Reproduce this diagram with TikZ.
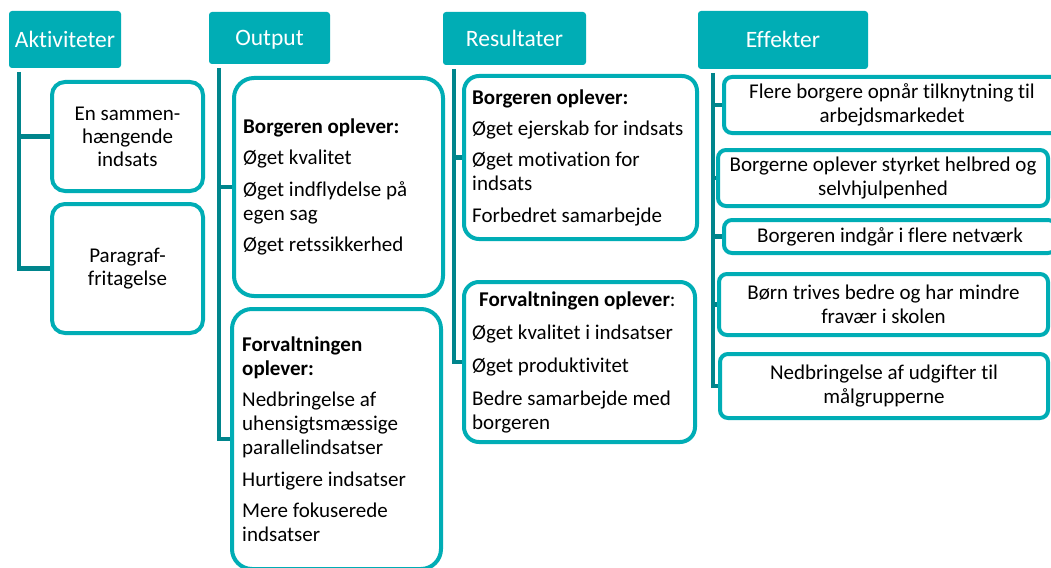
\documentclass[tikz,border=0pt]{standalone}
\usepackage{fontspec}
\setmainfont{Carlito}[Ligatures=NoCommon]
\definecolor{tealfill}{RGB}{0,173,181}
\definecolor{tealline}{RGB}{0,133,140}

\begin{document}
\begin{tikzpicture}[x=1pt,y=-1pt,
  header/.style={fill=tealfill, rounded corners=3pt, inner sep=0pt, outer sep=0pt,
    text=white, font=\fontsize{23.5}{28}\selectfont, text height=15.1pt, text depth=0pt,
    anchor=north west},
  card/.style={draw=tealfill, line width=4pt, fill=white, inner sep=0pt, outer sep=2pt,
    align=center, font=\fontsize{21}{24}\selectfont, anchor=north west},
  body/.style={inner sep=0pt, align=left, font=\fontsize{21}{24}\selectfont, anchor=west},
  link/.style={draw=tealline, line width=4.5pt}
]
\clip (0,0) rectangle (1051,567);
\fill[white] (0,0) rectangle (1051,567);

% column headers
\node[header, minimum width=112, minimum height=57] (hakt) at (9,11) {Aktiviteter};
\node[header, minimum width=121, minimum height=52] (hout) at (209,12) {Output};
\node[header, minimum width=143, minimum height=53] (hres) at (443,12) {Resultater};
\node[header, minimum width=170, minimum height=58] (heff) at (698,11) {Effekter};

% Aktiviteter
\node[card, rounded corners=13pt, minimum width=151, minimum height=109] (akt1) at (50,80)
  {En sammen-\\[-1pt]hængende\\[-1pt]indsats};
\node[card, rounded corners=13pt, minimum width=151, minimum height=129] (akt2) at (50,202)
  {Paragraf-\\[-1pt]fritagelse};

% Output
\node[card, rounded corners=20pt, minimum width=209, minimum height=218] (out1) at (232,76) {};
\node[body] (out1t) at ([xshift=11pt]out1.west)
  {\textbf{Borgeren oplever:}\\[7.5pt]
   Øget kvalitet\\[7.5pt]
   Øget indflydelse på\\
   egen sag\\[7.5pt]
   Øget retssikkerhed};
\node[card, rounded corners=20pt, minimum width=209, minimum height=260] (out2) at (230,307) {};
\node[body] (out2t) at ([xshift=12pt]out2.west)
  {\textbf{Forvaltningen}\\
   \textbf{oplever:}\\[7.5pt]
   Nedbringelse af\\
   uhensigtsmæssige\\
   parallelindsatser\\[7.5pt]
   Hurtigere indsatser\\[7.5pt]
   Mere fokuserede\\
   indsatser};

% Resultater
\node[card, rounded corners=15pt, minimum width=233, minimum height=163] (res1) at (462,74) {};
\node[body] (res1t) at ([xshift=10pt]res1.west)
  {\textbf{Borgeren oplever:}\\[7pt]
   Øget ejerskab for indsats\\[7.5pt]
   Øget motivation for\\
   indsats\\[7.5pt]
   Forbedret samarbejde};
\node[card, rounded corners=15pt, minimum width=231, minimum height=160] (res2) at (462,280) {};
\node[body] (res2t) at ([xshift=10pt]res2.west)
  {\hspace*{7pt}\textbf{Forvaltningen oplever}:\\[9pt]
   Øget kvalitet i indsatser\\[9pt]
   Øget produktivitet\\[9pt]
   Bedre samarbejde med\\
   borgeren};

% Effekter
\node[card, rounded corners=8pt, minimum width=336, minimum height=56] (eff1) at (722,75)
  {Flere borgere opnår tilknytning til\\arbejdsmarkedet};
\node[card, rounded corners=8pt, minimum width=330, minimum height=56] (eff2) at (716,148)
  {Borgerne oplever styrket helbred og\\selvhjulpenhed};
\node[card, rounded corners=8pt, minimum width=332, minimum height=33] (eff3) at (722,218)
  {Borgeren indgår i flere netværk};
\node[card, rounded corners=8pt, minimum width=329, minimum height=61] (eff4) at (717,272)
  {Børn trives bedre og har mindre\\fravær i skolen};
\node[card, rounded corners=8pt, minimum width=328, minimum height=64] (eff5) at (718,352)
  {Nedbringelse af udgifter til\\målgrupperne};

% connectors: a spine under each header with branches to its cards
\coordinate (aktspine) at (19,72);
\coordinate (outspine) at (219,68);
\coordinate (resspine) at (454,69);
\coordinate (effspine) at (713,73);

\draw[link] (aktspine) |- (akt2.west);
\draw[link] (aktspine |- akt1.west) -- (akt1.west);

\draw[link] (outspine) |- (out2.west);
\draw[link] (outspine |- out1.west) -- (out1.west);

\draw[link] (resspine) |- (res2.west);
\draw[link] (resspine |- res1.west) -- (res1.west);

\draw[link] (effspine) |- (eff5.west);
\draw[link] (effspine |- eff1.west) -- (eff1.west);
\draw[link] (effspine |- eff2.west) -- (eff2.west);
\draw[link] (effspine |- eff3.west) -- (eff3.west);
\draw[link] (effspine |- eff4.west) -- (eff4.west);
\end{tikzpicture}
\end{document}
